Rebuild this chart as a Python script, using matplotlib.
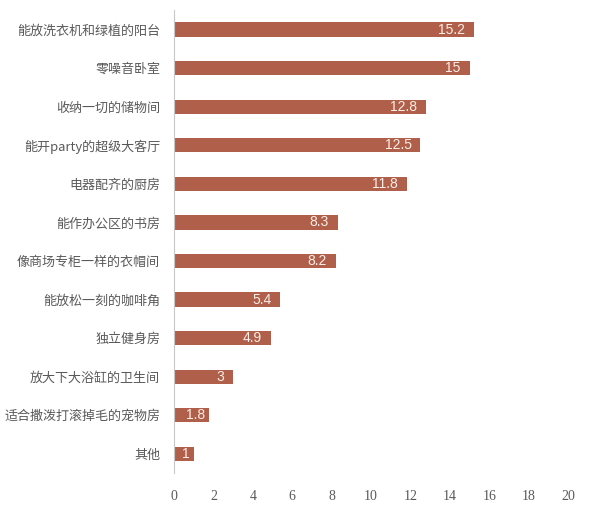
import numpy as np
import matplotlib.pyplot as plt

plt.rcParams['font.family'] = ['Noto Sans CJK SC', 'DejaVu Sans']

# datos (de arriba a abajo)
cats = ['能放洗衣机和绿植的阳台', '零噪音卧室', '收纳一切的储物间', '能开party的超级大客厅',
        '电器配齐的厨房', '能作办公区的书房', '像商场专柜一样的衣帽间', '能放松一刻的咖啡角',
        '独立健身房', '放大下大浴缸的卫生间', '适合撒泼打滚掉毛的宠物房', '其他']
vals = [15.2, 15, 12.8, 12.5, 11.8, 8.3, 8.2, 5.4, 4.9, 3, 1.8, 1]
xticks = [0, 2, 4, 6, 8, 10, 12, 14, 16, 18, 20]

fig = plt.figure(figsize=(6, 5.12), dpi=100)
ax = fig.add_axes([0.29, 0.076, 0.657, 0.904])

y = np.arange(len(cats))
ax.barh(y, vals, height=0.37, color='#B0604A')
for yi, v in zip(y, vals):
    pad = 0.45 if v > 2 else 0.2
    ax.text(v - pad, yi, f'{v:g}', ha='right', va='center',
            color='#fbeee8', fontsize=10, family='Liberation Sans')

ax.set_ylim(len(cats) - 0.5, -0.5)
ax.set_xlim(0, 20)
ax.set_yticks(y)
ax.set_yticklabels(cats, fontsize=9.4, color='#595959')
ax.set_xticks(xticks)
ax.set_xticklabels([str(t) for t in xticks], fontsize=10, color='#595959',
                   family='Liberation Serif')
ax.tick_params(axis='both', length=0)
ax.tick_params(axis='y', pad=10)
ax.tick_params(axis='x', pad=12)

for s in ['top', 'right', 'bottom']:
    ax.spines[s].set_visible(False)
ax.spines['left'].set_color('#c8c8c8')

fig.savefig('out.png', dpi=100)
